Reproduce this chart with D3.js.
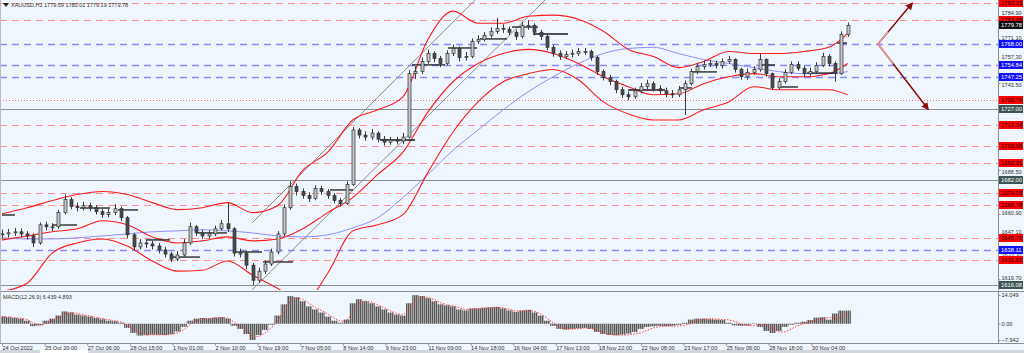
<!DOCTYPE html>
<meta charset="utf-8">
<head>
<style>
body { margin: 0; background: #eff6fd; }
svg { display: block; font-family: "Liberation Sans", Arial, sans-serif; }
.tick text { font-size: 5.6px; fill: #333; }
.axis path.domain { stroke: #8a8f96; }
.axis .tick line { stroke: #8a8f96; }
.band { fill: none; stroke: #ff1a1a; stroke-width: 1.1; }
.ma { fill: none; stroke: #8f8fff; stroke-width: 1; }
.lvl-red { stroke: #ff8f8f; stroke-dasharray: 7,5; }
.lvl-blue { stroke: #8a8aff; stroke-width: 1.4; stroke-dasharray: 7,5; }
.lvl-dot { stroke: #ff7070; stroke-dasharray: 1,2; }
.lvl-gray { stroke: #8a8f96; }
.chan { stroke: #8d8d8d; stroke-width: 1; }
.seg { stroke: #1a1a1a; stroke-width: 1.3; }
.box text { font-size: 5.8px; }
</style>
</head>
<body>
<svg width="1024" height="353"></svg>
<script src="https://d3js.org/d3.v7.min.js"></script>
<script>

// candles every 5 hourly bars
var closes = [1648.3,1649.0,1649.6,1648.3,1647.0,1642.6,1654.0,1652.8,1652.8,1661.7,
  1669.9,1665.5,1664.8,1666.1,1664.8,1662.3,1660.4,1661.7,1664.2,1658.5,
  1647.7,1640.1,1642.6,1642.0,1640.7,1638.2,1635.6,1632.4,1635.0,1642.6,
  1652.8,1649.0,1647.0,1648.3,1651.5,1654.7,1651.5,1636.2,1636.2,1628.6,
  1619.1,1624.8,1629.3,1636.9,1648.3,1664.8,1678.2,1675.0,1672.5,1670.6,
  1676.9,1675.0,1672.5,1669.3,1667.4,1679.4,1713.8,1710.6,1709.3,1711.8,
  1708.0,1706.1,1707.4,1706.8,1709.3,1749.3,1750.6,1757.0,1762.0,1758.9,
  1755.7,1762.0,1765.2,1759.5,1760.1,1769.7,1770.9,1773.5,1776.0,1777.9,
  1777.3,1775.4,1772.8,1779.8,1779.8,1775.4,1772.8,1765.9,1762.0,1760.1,
  1761.4,1762.0,1763.3,1763.3,1759.5,1750.6,1746.8,1744.3,1739.2,1736.0,
  1734.7,1738.5,1741.1,1743.0,1739.8,1738.5,1736.6,1736.0,1739.2,1743.0,
  1750.6,1753.8,1755.1,1755.7,1754.4,1757.0,1758.2,1751.9,1747.4,1750.0,
  1751.9,1758.2,1749.3,1740.4,1744.3,1750.0,1755.1,1752.5,1749.3,1750.6,
  1754.4,1760.1,1755.7,1749.3,1774.1,1779.8];

var highs = [1651.0,1651.5,1652.0,1651.8,1650.0,1648.5,1655.5,1656.0,1655.0,1663.5,
  1673.1,1671.5,1668.0,1668.5,1668.0,1666.5,1664.0,1664.0,1667.0,1665.5,
  1659.5,1649.0,1645.0,1645.0,1644.0,1642.5,1640.0,1637.0,1637.5,1645.0,
  1655.5,1654.0,1651.0,1650.5,1653.5,1657.0,1668.0,1652.5,1639.0,1637.5,
  1630.0,1627.0,1631.5,1639.0,1650.0,1667.0,1681.5,1680.0,1677.0,1674.5,
  1679.0,1678.5,1676.5,1674.0,1671.0,1681.5,1715.7,1715.0,1713.0,1714.5,
  1713.0,1710.0,1709.5,1709.5,1712.0,1751.5,1754.0,1759.5,1764.5,1763.5,
  1760.5,1764.0,1767.5,1766.5,1763.0,1771.5,1773.5,1775.5,1778.5,1784.4,
  1780.5,1779.0,1777.0,1782.0,1783.0,1781.0,1777.0,1774.0,1767.5,1764.0,
  1763.5,1764.5,1765.5,1765.5,1764.5,1760.5,1752.0,1748.5,1745.5,1741.0,
  1738.0,1740.5,1743.5,1745.5,1744.5,1742.0,1740.5,1739.0,1741.5,1745.0,
  1752.5,1756.0,1757.5,1758.0,1757.5,1759.0,1760.5,1759.0,1753.0,1752.5,
  1754.0,1762.0,1759.0,1750.0,1746.5,1752.0,1757.0,1757.0,1754.0,1753.0,
  1756.5,1762.5,1761.5,1757.0,1776.0,1781.5];

var lows = [1645.5,1646.0,1647.0,1646.0,1644.8,1640.0,1641.5,1650.5,1650.0,1651.5,
  1660.5,1663.8,1662.5,1663.0,1662.8,1660.5,1658.5,1658.8,1660.0,1656.5,
  1645.5,1638.0,1638.5,1639.5,1638.5,1636.0,1633.5,1630.5,1631.0,1634.0,
  1641.5,1647.0,1645.0,1645.5,1647.0,1650.5,1649.5,1634.0,1633.5,1626.0,
  1616.1,1617.5,1623.0,1628.0,1635.5,1647.0,1663.5,1672.5,1670.5,1668.5,
  1669.5,1673.0,1670.5,1667.5,1665.5,1666.5,1678.5,1708.5,1707.0,1707.5,
  1706.0,1704.0,1704.5,1704.8,1705.0,1708.5,1746.0,1749.0,1755.5,1756.5,
  1753.5,1754.5,1760.5,1757.0,1757.5,1759.0,1768.0,1769.5,1772.0,1774.5,
  1775.0,1773.5,1770.5,1771.5,1777.0,1773.5,1770.5,1764.0,1760.0,1758.0,
  1758.5,1759.5,1760.5,1761.0,1757.5,1748.5,1745.0,1742.0,1737.0,1734.0,
  1732.5,1733.5,1737.0,1739.5,1738.0,1736.5,1734.5,1734.0,1734.5,1723.3,
  1742.0,1749.0,1752.0,1753.5,1752.5,1752.5,1755.5,1750.0,1745.5,1745.5,
  1748.5,1750.5,1747.5,1739.0,1739.5,1743.0,1749.0,1751.0,1747.5,1748.0,
  1749.5,1753.5,1754.0,1744.3,1748.5,1772.5];

var macdHist = [3.5,3.2,2.8,2.5,1.5,-1.2,-0.8,1.5,2.5,4.0,
  6.0,5.5,4.5,4.0,3.5,2.8,2.2,1.5,1.2,0.5,
  -2.0,-4.5,-5.8,-5.6,-5.3,-5.4,-5.5,-5.0,-3.8,-1.5,
  1.5,2.5,2.8,2.6,3.0,3.2,2.5,-1.0,-2.5,-5.0,
  -7.9,-5.5,-3.0,-0.5,4.0,9.5,13.5,13.0,11.0,8.5,
  7.0,5.5,3.5,1.5,0.5,2.0,10.0,12.0,11.0,10.0,
  8.5,7.0,5.5,4.5,4.0,10.0,14.0,13.5,12.5,11.0,
  9.5,9.0,8.5,7.0,6.5,7.5,7.5,7.8,8.0,8.2,
  7.5,6.5,5.8,6.5,6.8,5.5,4.0,1.5,-1.0,-2.5,
  -2.8,-2.5,-2.2,-2.0,-2.5,-4.0,-5.0,-5.5,-5.6,-5.3,
  -4.8,-4.0,-2.5,-1.5,-1.2,-1.0,-1.2,-1.0,-0.5,0.5,
  2.0,2.5,2.5,2.2,2.0,1.8,0.5,-0.8,-1.0,-0.8,
  0.2,-1.5,-3.5,-4.5,-3.5,-1.5,-0.5,0.5,1.0,1.8,
  3.0,3.2,2.0,5.0,6.4,6.439];

var macdSignal = [3.6,3.4,3.1,2.7,2.1,0.5,-0.6,0.2,1.6,3.0,
  4.6,5.5,5.1,4.4,3.8,3.2,2.6,2.0,1.5,0.9,
  -0.6,-2.8,-4.6,-5.4,-5.4,-5.4,-5.4,-5.2,-4.5,-2.9,
  -0.4,1.5,2.4,2.6,2.8,3.0,2.8,0.9,-1.2,-3.5,
  -6.0,-6.3,-4.5,-2.0,1.5,6.0,10.8,12.5,12.0,10.0,
  8.0,6.5,4.7,2.8,1.2,1.5,5.5,10.0,11.2,10.5,
  9.3,7.8,6.3,5.1,4.3,6.8,11.5,13.2,12.8,11.8,
  10.3,9.3,8.8,7.8,6.9,7.0,7.4,7.6,7.9,8.1,
  7.8,7.0,6.2,6.2,6.6,6.1,4.8,2.8,0.3,-1.7,
  -2.6,-2.6,-2.4,-2.1,-2.3,-3.2,-4.4,-5.2,-5.5,-5.6,
  -5.4,-5.0,-4.4,-3.2,-2.0,-1.4,-1.1,-1.1,-1.1,-0.7,
  0.0,1.2,2.2,2.5,2.3,2.1,1.9,1.1,-0.1,-0.9,
  -0.9,-0.3,-0.6,-2.4,-4.0,-4.0,-2.5,-1.0,0.0,0.8,
  1.4,2.4,3.1,2.6,3.5,4.893];

// indicator samples (hour positions)
var bandHours = [0,20,40,60,80,100,120,140,160,180,200,220,240,260,280,300,320,340,360,380,
  400,420,440,460,480,500,520,540,560,580,600,620,640,660,675];
var bandUpper = [1661.0,1664.8,1669.3,1673.1,1675.0,1673.1,1668.0,1663.6,1664.8,1668.0,
  1661.7,1666.1,1688.3,1699.8,1720.1,1726.5,1734.7,1770.9,1788.7,1781.1,
  1781.1,1785.5,1786.2,1783.6,1776.0,1764.6,1760.1,1753.1,1757.0,1763.3,
  1762.0,1762.0,1763.3,1765.9,1774.7];
var bandMid = [1644.5,1647.0,1649.6,1651.5,1656.6,1654.0,1646.4,1642.6,1643.9,1646.4,
  1643.9,1645.1,1651.5,1661.7,1671.2,1685.8,1699.8,1725.2,1744.2,1755.7,
  1762.0,1764.6,1762.0,1755.7,1747.4,1741.1,1736.0,1736.6,1743.0,1747.4,
  1749.3,1747.4,1747.4,1749.3,1755.7];
var bandLower = [1612.1,1617.2,1636.2,1642.6,1645.1,1640.7,1631.2,1624.8,1625.4,1631.2,
  1622.3,1614.0,1604.5,1623.5,1650.2,1654.0,1660.4,1687.1,1712.5,1731.5,
  1744.2,1749.3,1751.9,1745.5,1731.5,1723.9,1720.1,1720.1,1726.5,1731.5,
  1741.1,1739.2,1739.2,1739.2,1736.0];
var maSlow = [1645.8,1645.1,1645.1,1645.8,1647.0,1648.3,1649.6,1650.2,1650.9,1650.2,
  1648.9,1647.0,1646.4,1647.7,1652.1,1658.5,1671.2,1685.8,1701.0,1713.8,
  1726.5,1737.9,1747.4,1755.7,1762.0,1765.2,1765.9,1762.0,1758.2,1755.7,
  1753.1,1750.6,1749.3,1749.3,1750.6];

// horizontal levels
var redLevels = [1793.63, 1783.08, 1717.04, 1703.58, 1692.91, 1674.08, 1666.78, 1645.72, 1631.82];
var blueLevels = [1768.00, 1754.84, 1747.25, 1638.11];
var dotLevels = [1732.74];
var grayLevels = [1727.00, 1682.00, 1616.08];
var lastPrice = 1779.78;

// black horizontal segments [startHour, endHour, price]
var segments = [[0,10.4,1660.2],[40.7,59.9,1653.9],[62.3,86.2,1664.6],[92.6,108.6,1663.4],
  [115.7,134.1,1644.5],[135.7,158.0,1633.7],[155.7,179.6,1648.9],[184.4,207.5,1636.9],
  [208.3,232.3,1630.6],[261.8,280.2,1676.0],[301.7,329.7,1707.5],[327.3,353.6,1754.8],
  [356.0,379.2,1765.5],[381.5,403.1,1771.2],[407.1,427.8,1778.7],[423.9,451.8,1774.3],
  [499.7,529.2,1739.0],[541.2,550.8,1740.3],[550.8,570.7,1750.4],[605.0,617.0,1754.8],
  [619.4,635.4,1740.9],[642.6,664.9,1749.7],[666.5,674.5,1768.6]];

// channel trend lines [[hour, price], [hour, price]]
var channels = [[[199.6,1655.2],[377.6,1795.7]], [[198.0,1611.7],[433.4,1795.7]]];

// projection arrows
var arrowStart = [699.2, 1768.00];
var arrowUp = [726.4, 1793.63];
var arrowDown = [739.1, 1727.00];

var priceTicks = [1784.90, 1771.10, 1757.30, 1743.50, 1688.50, 1660.90, 1647.10, 1633.30, 1619.70];
var macdTicks = [14.049, 0, -7.942];
var timeHours = [0,34,68,102,136,170,204,238,272,306,340,374,408,442,476,510,544,578,612,646];
var timeLabels = ["24 Oct 2022","25 Oct 20:00","27 Oct 06:00","28 Oct 15:00","1 Nov 01:00",
  "2 Nov 10:00","3 Nov 19:00","7 Nov 05:00","8 Nov 14:00","9 Nov 23:00","11 Nov 09:00",
  "14 Nov 18:00","16 Nov 04:00","17 Nov 13:00","18 Nov 22:00","22 Nov 08:00","23 Nov 17:00",
  "25 Nov 06:00","28 Nov 18:00","30 Nov 04:00"];

var svg = d3.select("svg"),
    width = +svg.attr("width"),
    height = +svg.attr("height");

var plotRight = 998, mainBottom = 290, macdTop = 292, macdBottom = 343;

var x = d3.scaleLinear().domain([0, 795]).range([2, plotRight]);
var y = d3.scaleLinear().domain([1612.93, 1795.74]).range([mainBottom, 0]);
var ym = d3.scaleLinear().domain([-7.942, 14.049]).range([340, 295]);

svg.append("rect").attr("width", width).attr("height", height).attr("fill", "#eff6fd");

var defs = svg.append("defs");
defs.append("clipPath").attr("id", "clipMain")
  .append("rect").attr("x", 0).attr("y", 0).attr("width", plotRight).attr("height", mainBottom);
defs.append("clipPath").attr("id", "clipMacd")
  .append("rect").attr("x", 0).attr("y", macdTop).attr("width", plotRight).attr("height", macdBottom - macdTop);
var pat = defs.append("pattern").attr("id", "hatch").attr("patternUnits", "userSpaceOnUse")
  .attr("width", 2).attr("height", 4);
pat.append("rect").attr("width", 2).attr("height", 4).attr("fill", "#a6a6a6");
pat.append("rect").attr("width", 1).attr("height", 4).attr("fill", "#585858");
defs.append("marker").attr("id", "arrowHead").attr("viewBox", "0 0 10 10")
  .attr("refX", 8).attr("refY", 5).attr("markerWidth", 5).attr("markerHeight", 5)
  .attr("orient", "auto")
  .append("path").attr("d", "M0,0L10,5L0,10z").attr("fill", "#8b0a0a");

var main = svg.append("g").attr("clip-path", "url(#clipMain)");

// level lines
function levelLines(vals, cls) {
  main.selectAll("line." + cls).data(vals).enter().append("line")
    .attr("class", cls)
    .attr("x1", 0).attr("x2", plotRight)
    .attr("y1", function(d) { return Math.round(y(d)) + 0.5; })
    .attr("y2", function(d) { return Math.round(y(d)) + 0.5; });
}
levelLines(grayLevels, "lvl-gray");
levelLines(redLevels, "lvl-red");
levelLines(blueLevels, "lvl-blue");
levelLines(dotLevels, "lvl-dot");

// channel
main.selectAll("line.chan").data(channels).enter().append("line")
  .attr("class", "chan")
  .attr("x1", function(d) { return x(d[0][0]); })
  .attr("y1", function(d) { return y(d[0][1]); })
  .attr("x2", function(d) { return x(d[1][0]); })
  .attr("y2", function(d) { return y(d[1][1]); });

// bands and slow MA
var curve = d3.line()
  .x(function(d, i) { return x(bandHours[i]); })
  .y(function(d) { return y(d); })
  .curve(d3.curveMonotoneX);
main.append("path").attr("class", "ma").attr("d", curve(maSlow));
[bandUpper, bandMid, bandLower].forEach(function(s) {
  main.append("path").attr("class", "band").attr("d", curve(s));
});

// black segments
main.selectAll("line.seg").data(segments).enter().append("line")
  .attr("class", "seg")
  .attr("x1", function(d) { return x(d[0]); })
  .attr("x2", function(d) { return x(d[1]); })
  .attr("y1", function(d) { return y(d[2]); })
  .attr("y2", function(d) { return y(d[2]); });

// candles
var candles = closes.map(function(c, i) {
  return { h: i * 5, o: i ? closes[i - 1] : c, c: c, hi: highs[i], lo: lows[i] };
});
var cg = main.selectAll("g.candle").data(candles).enter().append("g");
cg.append("line")
  .attr("x1", function(d) { return Math.round(x(d.h)) + 0.5; })
  .attr("x2", function(d) { return Math.round(x(d.h)) + 0.5; })
  .attr("y1", function(d) { return y(d.hi); })
  .attr("y2", function(d) { return y(d.lo); })
  .attr("stroke", "#3a3a3a").attr("stroke-width", 1);
cg.append("rect")
  .attr("x", function(d) { return Math.round(x(d.h)) - 1; })
  .attr("width", 3)
  .attr("y", function(d) { return y(Math.max(d.o, d.c)); })
  .attr("height", function(d) { return Math.max(1, Math.abs(y(d.o) - y(d.c))); })
  .attr("fill", function(d) { return d.c >= d.o ? "#c4c4c4" : "#4a4a4a"; })
  .attr("stroke", "#333").attr("stroke-width", 0.7);

// arrows
var ag = svg.append("g");
[arrowUp, arrowDown].forEach(function(p) {
  ag.append("line")
    .attr("x1", x(arrowStart[0])).attr("y1", y(arrowStart[1]))
    .attr("x2", x(p[0])).attr("y2", y(p[1]))
    .attr("stroke", "#8b0a0a").attr("stroke-width", 1.5)
    .attr("marker-end", "url(#arrowHead)");
  ag.append("line")
    .attr("x1", x(arrowStart[0])).attr("y1", y(arrowStart[1]))
    .attr("x2", x(arrowStart[0] + (p[0] - arrowStart[0]) * 0.3))
    .attr("y2", y(arrowStart[1] + (p[1] - arrowStart[1]) * 0.3))
    .attr("stroke", "#e8a0a0").attr("stroke-width", 1.5);
});

// MACD panel
var mg = svg.append("g").attr("clip-path", "url(#clipMacd)");
mg.selectAll("rect").data(macdHist).enter().append("rect")
  .attr("x", function(d, i) { return x(i * 5) - 3.2; })
  .attr("width", 6.4)
  .attr("y", function(d) { return Math.min(ym(d), ym(0)); })
  .attr("height", function(d) { return Math.abs(ym(d) - ym(0)); })
  .attr("fill", "url(#hatch)");
mg.append("path")
  .attr("d", d3.line().x(function(d, i) { return x(i * 5); }).y(function(d) { return ym(d); })(macdSignal))
  .attr("fill", "none").attr("stroke", "#ff3b3b").attr("stroke-width", 1)
  .attr("stroke-dasharray", "1.5,1.5");

// frame lines
svg.append("line").attr("x1", 0).attr("x2", width).attr("y1", 291.5).attr("y2", 291.5).attr("stroke", "#8a8f96");
svg.append("line").attr("x1", 0.5).attr("x2", 0.5).attr("y1", 0).attr("y2", macdBottom).attr("stroke", "#b8bcc2");

// level boxes on the price axis
var boxes = []
  .concat(redLevels.map(function(v) { return { v: v, bg: "#ff0000", fg: "#2a0000" }; }))
  .concat(blueLevels.map(function(v) { return { v: v, bg: "#1010ff", fg: "#ffffff" }; }))
  .concat(dotLevels.map(function(v) { return { v: v, bg: "#ff0000", fg: "#2a0000" }; }))
  .concat(grayLevels.map(function(v) { return { v: v, bg: "#3c5454", fg: "#ffffff" }; }))
  .concat([{ v: lastPrice, bg: "#111111", fg: "#ffffff" }]);

// right price axis; tick labels step aside from the level boxes
var ra = svg.append("g").attr("class", "axis").attr("transform", "translate(" + (plotRight + 0.5) + ",0)")
  .call(d3.axisRight(y).tickValues(priceTicks).tickSize(2).tickPadding(1).tickFormat(d3.format(".2f")));
ra.select(".domain").attr("d", "M0,0V" + mainBottom);
ra.selectAll(".tick text").attr("y", function(t) {
  var yt = y(t), tries = [-1.5, 2, -4, 4];
  for (var k = 0; k < tries.length; k++) {
    var ok = boxes.every(function(b) { return Math.abs(Math.round(y(b.v)) - (yt + tries[k])) >= 6.2; });
    if (ok) return tries[k];
  }
  return -3.2;
});

var ma2 = svg.append("g").attr("class", "axis").attr("transform", "translate(" + (plotRight + 0.5) + ",0)")
  .call(d3.axisRight(ym).tickValues(macdTicks).tickSize(2).tickPadding(1)
    .tickFormat(function(d) { return d === 0 ? "0.00" : d3.format(".3f")(d); }));
ma2.select(".domain").attr("d", "M0," + macdTop + "V" + macdBottom);

// bottom time axis
var ba = svg.append("g").attr("class", "axis").attr("transform", "translate(0," + (macdBottom + 0.5) + ")")
  .call(d3.axisBottom(x).tickValues(timeHours).tickSize(2).tickPadding(1)
    .tickFormat(function(d, i) { return timeLabels[i]; }));
ba.select(".domain").attr("d", "M0,0H" + width);
ba.selectAll(".tick text").attr("text-anchor", "start").attr("dx", 0);

var bx = svg.selectAll("g.box").data(boxes).enter().append("g")
  .attr("class", "box")
  .attr("transform", function(d) { return "translate(" + (plotRight + 1) + "," + Math.round(y(d.v)) + ")"; });
bx.append("rect").attr("x", 0).attr("y", -4).attr("width", 24).attr("height", 8)
  .attr("fill", function(d) { return d.bg; });
bx.append("text").attr("x", 2).attr("y", 2.1)
  .attr("fill", function(d) { return d.fg; })
  .text(function(d) { return d3.format(".2f")(d.v); });

// titles
svg.append("path").attr("d", "M3,3L9,3L6,7z").attr("fill", "#222");
svg.append("text").attr("x", 11).attr("y", 7).attr("font-size", 5.5).attr("fill", "#333")
  .text("XAUUSD,H1  1779.59 1780.01 1779.19 1779.78");
svg.append("text").attr("x", 3).attr("y", 299).attr("font-size", 5.5).attr("fill", "#333")
  .text("MACD(12,26,9) 6.439 4.893");

// bottom strip
svg.append("rect").attr("x", 0).attr("y", 350).attr("width", width).attr("height", 3).attr("fill", "#d3d6da");
svg.append("rect").attr("x", 40).attr("y", 350).attr("width", 48).attr("height", 3).attr("fill", "#ffffff");

</script>
</body>
